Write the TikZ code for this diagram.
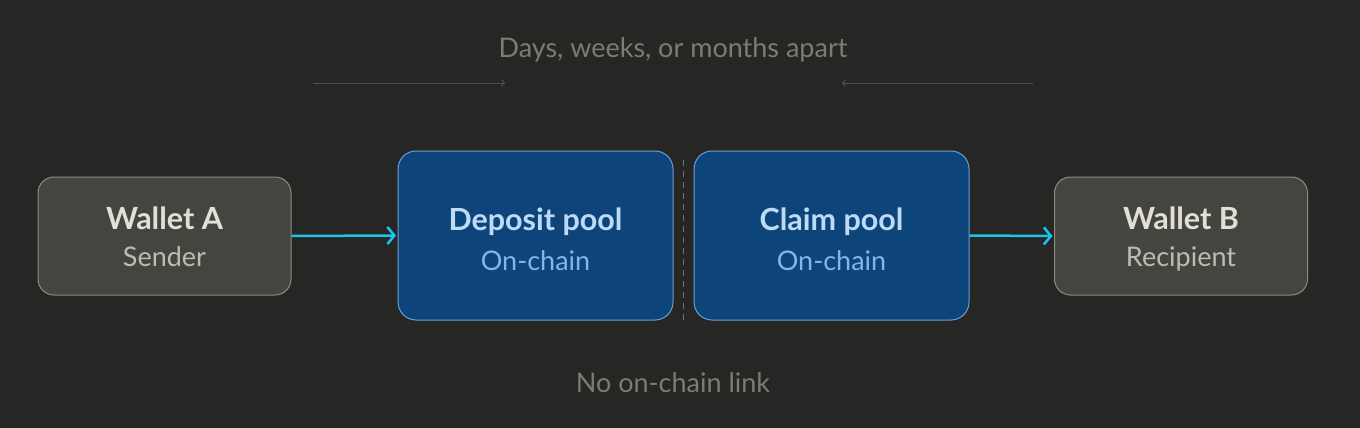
\documentclass[tikz,border=0pt]{standalone}
\usepackage{fontspec}
\setmainfont{Lato}
\usetikzlibrary{arrows.meta}

\definecolor{bgcol}{HTML}{262624}
\definecolor{walletfill}{HTML}{45453F}
\definecolor{walletline}{HTML}{8C8A82}
\definecolor{wallettitle}{HTML}{E2DFD6}
\definecolor{walletsub}{HTML}{BEBBB2}
\definecolor{poolfill}{HTML}{0D4479}
\definecolor{poolline}{HTML}{6B9FD6}
\definecolor{pooltitle}{HTML}{BDDAF6}
\definecolor{poolsub}{HTML}{7DB7EE}
\definecolor{flowcol}{HTML}{1CC4EE}
\definecolor{notecol}{HTML}{7C7B74}
\definecolor{timecol}{HTML}{4E4E4A}

\tikzset{
  wallet/.style={draw=walletline, line width=1pt, fill=walletfill, rounded corners=16pt,
    minimum width=253pt, minimum height=118pt, align=center, inner sep=0pt},
  pool/.style={draw=poolline, line width=1pt, fill=poolfill, rounded corners=18pt,
    minimum width=275pt, minimum height=169pt, align=center, inner sep=0pt},
  txt/.style={text height=0.75em, text depth=0.25em, inner sep=0pt},
  title/.style={txt, font=\fontsize{30.5}{34}\bfseries\selectfont},
  sub/.style={txt, font=\fontsize{27}{31}\selectfont},
  flow/.style={draw=flowcol, line width=2.5pt, -{Straight Barb[length=7pt,width=17pt,line width=2.5pt]}},
  timeline/.style={draw=timecol, line width=1pt, -{Straight Barb[length=3pt,width=7pt]}},
  note/.style={txt, text=notecol, font=\fontsize{27}{31}\selectfont}
}

\begin{document}
\begin{tikzpicture}[x=1pt,y=-1pt]
\fill[bgcol] (0,0) rectangle (1360,428);
\useasboundingbox (0,0) rectangle (1360,428);

\node[note] (gap) at (673,55.5) {Days, weeks, or months apart};
\coordinate (tl1) at (313,83);
\coordinate (tl2) at (505,83);
\coordinate (tr1) at (1033,83);
\coordinate (tr2) at (842,83);
\draw[timeline] (tl1) -- (tl2);
\draw[timeline] (tr1) -- (tr2);

\node[wallet] (wa) at (164.5,236) {};
\node[pool] (dep) at (535.5,235.5) {};
\node[pool] (clm) at (831.5,235.5) {};
\node[wallet] (wb) at (1181,236) {};

\node[title, text=wallettitle] (wat) at (164.5,226.5) {Wallet A};
\node[sub, text=walletsub] (was) at (164.5,264) {Sender};
\node[title, text=pooltitle] (dept) at (535.5,227.5) {Deposit pool};
\node[sub, text=poolsub] (deps) at (535.5,268) {On-chain};
\node[title, text=pooltitle] (clmt) at (831.5,227.5) {Claim pool};
\node[sub, text=poolsub] (clms) at (831.5,268) {On-chain};
\node[title, text=wallettitle] (wbt) at (1181,226.5) {Wallet B};
\node[sub, text=walletsub] (wbs) at (1181,264) {Recipient};

\draw[flow] (wa.east) -- ([xshift=-1.5pt]dep.west);
\draw[flow] (clm.east) -- ([xshift=-1.5pt]wb.west);

\coordinate (cut1) at (683,160);
\coordinate (cut2) at (683,320);
\draw[timecol!80!white, line width=1pt, dash pattern=on 6pt off 5pt] (cut1) -- (cut2);

\node[note] (nolink) at (673,390) {No on-chain link};
\end{tikzpicture}
\end{document}
